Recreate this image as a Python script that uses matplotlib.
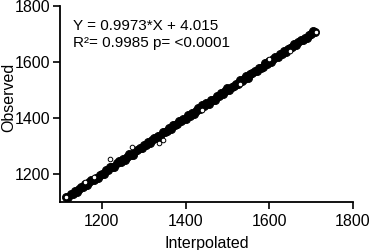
import matplotlib
matplotlib.use("Agg")
import matplotlib.pyplot as plt

plt.rcParams['font.family'] = ['Liberation Sans', 'DejaVu Sans']

interpolated = [1115,1120,1125,1130,1135,1140,1145,1150,1155,1160,1165,1170,1175,1180,1185,1190,1195,1200,1205,1210,
                1215,1220,1225,1230,1235,1240,1245,1250,1255,1260,1265,1270,1275,1280,1285,1290,1295,1300,1305,1310,
                1315,1320,1325,1330,1335,1340,1345,1350,1355,1360,1365,1370,1375,1380,1385,1390,1395,1400,1405,1410,
                1415,1420,1425,1430,1435,1440,1445,1450,1455,1460,1465,1470,1475,1480,1485,1490,1495,1500,1505,1510,
                1515,1520,1525,1530,1535,1540,1545,1550,1555,1560,1565,1570,1575,1580,1585,1590,1595,1600,1605,1610,
                1615,1620,1625,1630,1635,1640,1645,1650,1655,1660,1665,1670,1675,1680,1685,1690,1695,1700,1705,1710]
observed = [1117,1117,1129,1129,1140,1136,1146,1153,1153,1166,1160,1170,1179,1177,1187,1184,1198,1201,1201,1215,
            1213,1224,1224,1225,1238,1246,1242,1252,1251,1261,1270,1268,1269,1283,1285,1294,1292,1302,1304,1316,
            1311,1321,1330,1327,1337,1335,1349,1350,1353,1363,1359,1375,1376,1377,1389,1389,1397,1396,1411,1408,
            1418,1415,1425,1434,1432,1445,1444,1452,1449,1463,1466,1466,1480,1478,1489,1487,1495,1506,1500,1512,
            1514,1523,1521,1535,1533,1541,1549,1544,1558,1559,1567,1567,1580,1580,1581,1596,1593,1603,1600,1611,
            1619,1617,1627,1629,1640,1636,1648,1650,1653,1666,1660,1671,1679,1677,1687,1684,1698,1699,1710,1708]

edge_x = [1114, 1219, 1271, 1337, 1347, 1160, 1180, 1440, 1530, 1600, 1650, 1712]
edge_y = [1119, 1252, 1296, 1309, 1320, 1170, 1190, 1430, 1523, 1611, 1641, 1708]

equation = "Y = 0.9973*X + 4.015"
stats = "R²= 0.9985 p= <0.0001"
ticks = [1200, 1400, 1600, 1800]

fig = plt.figure(figsize=(3.71, 2.5), dpi=100)
ax = fig.add_axes([0.162, 0.192, 0.789, 0.784])

ax.scatter(interpolated, observed, s=34, facecolors='black', edgecolors='black', linewidths=0.6, zorder=3)
ax.scatter(edge_x, edge_y, s=11, facecolors='white', edgecolors='black', linewidths=0.7, zorder=4)

ax.set_xlim(1100, 1800)
ax.set_ylim(1100, 1800)
ax.set_xticks(ticks)
ax.set_yticks(ticks)
ax.tick_params(labelsize=11.5, length=5, width=1.2, direction='out')
ax.tick_params(axis='x', pad=4)
ax.tick_params(axis='y', pad=2)
for s in ['top', 'right']:
    ax.spines[s].set_visible(False)
for s in ['left', 'bottom']:
    ax.spines[s].set_linewidth(1.3)

ax.set_xlabel("Interpolated", fontsize=11.5, labelpad=5)
fig.text(8.5 / 371, 1 - 97 / 250, "Observed", fontsize=11.5, rotation=90,
         ha='center', va='center')

ax.text(0.045, 0.935, equation, transform=ax.transAxes, fontsize=11, va='top', ha='left')
ax.text(0.045, 0.845, stats, transform=ax.transAxes, fontsize=11, va='top', ha='left')

fig.savefig("out.png", dpi=100)
